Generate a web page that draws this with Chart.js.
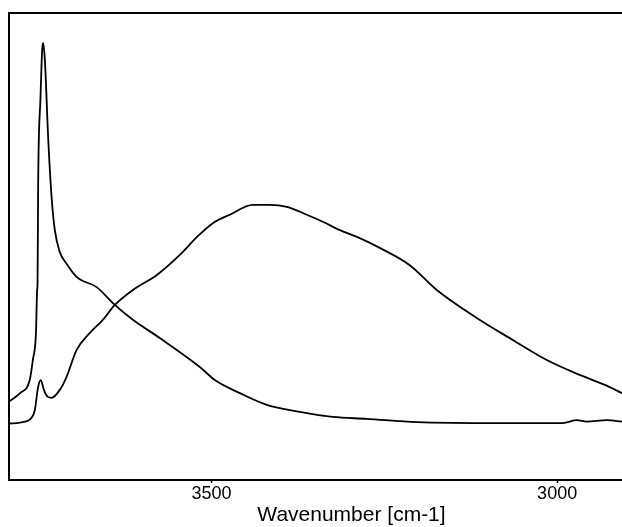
<!DOCTYPE html>
<html>
<head>
<meta charset="utf-8">
<script src="https://cdn.jsdelivr.net/npm/chart.js@4/dist/chart.umd.min.js"></script>
<style>
  html, body { margin: 0; padding: 0; background: #fff; overflow: hidden; }
  /* the original figure is cropped on the right, so the chart is wider than the window */
  #crop { width: 622px; height: 527px; overflow: hidden; position: relative; }
  #wrap { width: 694px; height: 527px; position: absolute; left: 0; top: 0; }
</style>
</head>
<body>
<div id="crop"><div id="wrap"><canvas id="ir"></canvas></div></div>
<script>
// spectrum with the sharp free OH band (wavenumber / absorbance, arb. units)
var sharpWn  = [3793, 3777, 3763, 3758.5, 3754, 3752.3, 3751.7, 3750.8, 3747.4, 3745, 3743.6,
                3741.1, 3736.4, 3731.4, 3726.7, 3719.5, 3709.7, 3695.3, 3666.3, 3639.9, 3613.8,
                3574.8, 3516.9, 3495.2, 3459, 3420, 3372.3, 3324.5, 3275.4, 3203, 3083,
                2991.9, 2971.6, 2957.2, 2928.2, 2906];
var sharpAbs = [0.168, 0.186, 0.214, 0.257, 0.315, 0.407, 0.422, 0.636, 0.820, 0.921, 0.936,
                0.899, 0.735, 0.606, 0.535, 0.488, 0.463, 0.435, 0.413, 0.375, 0.343,
                0.304, 0.242, 0.214, 0.186, 0.161, 0.146, 0.135, 0.131, 0.124, 0.122,
                0.122, 0.128, 0.125, 0.128, 0.125];

// spectrum with the broad H-bonded band
var broadWn  = [3793, 3777, 3760.4, 3755.6, 3750.8, 3746.9, 3742.6, 3736.8, 3731.4, 3719.5,
                3709.7, 3695.3, 3676, 3657.2, 3639.9, 3613.8, 3579.1, 3545.9, 3521.3, 3498.1,
                3473.5, 3440.3, 3415.7, 3391.1, 3362.2, 3339, 3314.4, 3285.5, 3256.6, 3213.2,
                3174.1, 3116.3, 3064.2, 3015, 2967.3, 2923.9, 2906];
var broadAbs = [0.121, 0.123, 0.133, 0.150, 0.200, 0.214, 0.193, 0.178, 0.176, 0.193,
                0.221, 0.278, 0.315, 0.343, 0.375, 0.407, 0.439, 0.482, 0.520, 0.550,
                0.568, 0.589, 0.589, 0.585, 0.568, 0.553, 0.535, 0.518, 0.497, 0.460,
                0.407, 0.347, 0.300, 0.257, 0.225, 0.199, 0.186];

var xTicks = [3500, 3000];
var xTitle = 'Wavenumber [cm-1]';

function pts(xs, ys) {
  return xs.map(function (x, i) { return { x: x, y: ys[i] }; });
}

var lineStyle = {
  borderColor: '#000',
  borderWidth: 1.8,
  pointRadius: 0,
  fill: false,
  cubicInterpolationMode: 'monotone'
};

// left and top frame lines of the plot box
var frame = {
  id: 'frame',
  afterDraw: function (chart) {
    var a = chart.chartArea, ctx = chart.ctx;
    ctx.save();
    ctx.strokeStyle = '#000';
    ctx.lineWidth = 2;
    ctx.beginPath();
    ctx.moveTo(a.left, a.bottom);
    ctx.lineTo(a.left, a.top);
    ctx.lineTo(a.right, a.top);
    ctx.stroke();
    ctx.restore();
  }
};

new Chart(document.getElementById('ir'), {
  type: 'line',
  data: {
    datasets: [
      Object.assign({ label: 'sharp', data: pts(sharpWn, sharpAbs) }, lineStyle),
      Object.assign({ label: 'broad', data: pts(broadWn, broadAbs) }, lineStyle)
    ]
  },
  plugins: [frame],
  options: {
    responsive: true,
    maintainAspectRatio: false,
    animation: false,
    layout: { padding: { left: 9, top: 13, right: 0, bottom: 1 } },
    plugins: { legend: { display: false }, tooltip: { enabled: false } },
    scales: {
      x: {
        type: 'linear',
        reverse: true,
        min: 2802,
        max: 3793,
        afterBuildTicks: function (axis) {
          axis.ticks = xTicks.map(function (v) { return { value: v }; });
        },
        grid: { drawOnChartArea: false, drawTicks: true, tickLength: 3, color: '#000', tickWidth: 1.5 },
        border: { display: true, color: '#000', width: 2 },
        ticks: {
          color: '#000',
          padding: 2,
          maxRotation: 0,
          font: { family: 'Liberation Sans, Arial, sans-serif', size: 18, lineHeight: 1 },
          callback: function (v) { return String(v); }
        },
        title: {
          display: true,
          text: xTitle,
          color: '#000',
          padding: { top: 0, bottom: 0 },
          font: { family: 'Liberation Sans, Arial, sans-serif', size: 21, lineHeight: 1 }
        }
      },
      y: {
        display: false,
        min: 0,
        max: 1
      }
    }
  }
});
</script>
</body>
</html>
